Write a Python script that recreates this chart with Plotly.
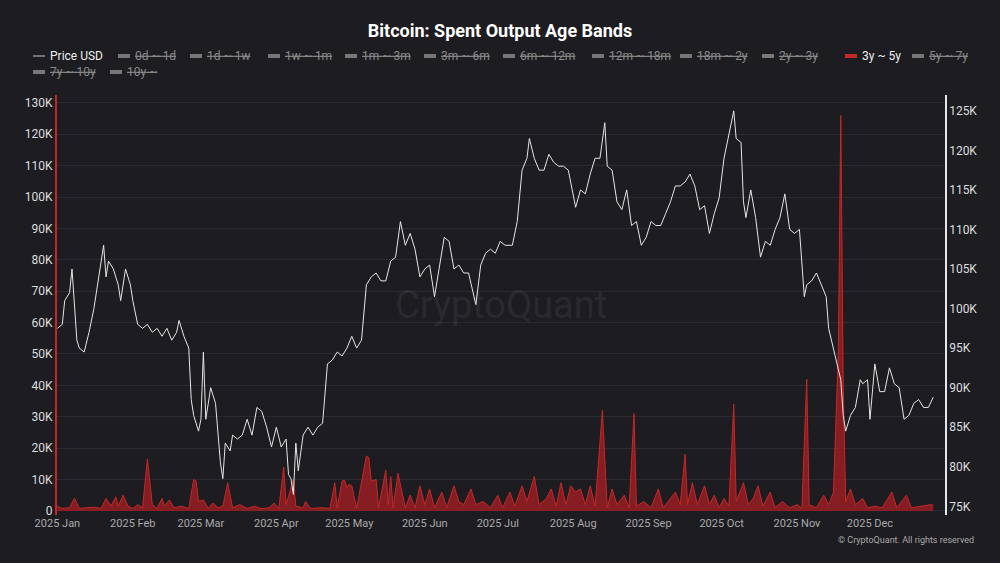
import plotly.graph_objects as go
import pandas as pd

price_dates = ["01-01","01-03","01-04","01-06","01-07","01-09","01-10","01-12","01-14","01-16","01-18","01-20","01-21","01-22","01-24","01-26","01-27","01-29","01-31",
"02-01","02-03","02-05","02-07","02-09","02-11","02-13","02-15","02-17","02-19","02-20","02-22","02-24","02-25","02-26","02-28",
"03-01","03-02","03-03","03-05","03-07","03-09","03-10","03-11","03-13","03-14","03-16","03-18","03-20","03-22","03-24","03-26","03-28","03-30",
"04-01","04-03","04-05","04-06","04-07","04-08","04-09","04-10","04-12","04-14","04-16","04-18","04-20","04-22","04-24","04-26","04-28","04-30",
"05-02","05-04","05-06","05-08","05-10","05-12","05-14","05-16","05-18","05-20","05-22","05-24","05-26","05-28","05-30",
"06-01","06-03","06-05","06-07","06-09","06-11","06-13","06-15","06-17","06-19","06-21","06-22","06-24","06-26","06-28","06-30",
"07-02","07-04","07-07","07-09","07-11","07-13","07-14","07-16","07-18","07-20","07-22","07-24","07-26","07-28","07-30",
"08-01","08-02","08-04","08-06","08-08","08-10","08-12","08-14","08-15","08-17","08-19","08-21","08-23","08-25","08-27","08-29","08-31",
"09-02","09-04","09-06","09-08","09-10","09-12","09-14","09-16","09-18","09-20","09-22","09-24","09-26","09-28","09-30",
"10-02","10-04","10-06","10-07","10-09","10-10","10-11","10-13","10-15","10-17","10-19","10-21","10-23","10-25","10-27","10-29","10-31",
"11-02","11-04","11-05","11-07","11-09","11-11","11-13","11-14","11-16","11-18","11-19","11-20","11-21","11-23","11-25","11-27","11-28","11-30",
"12-01","12-03","12-05","12-07","12-09","12-11","12-13","12-15","12-17","12-19","12-21","12-23","12-25","12-27"]
price_usd = [97.5,98,101,102,105,96,95,94.5,97,100,104,108,104,106,105,103,101,105,103,
101,98,97.5,98,97,97.5,96.5,97.5,96,97,98.5,96.5,95,88.5,86.5,84.5,
86,94.5,86,90,88,80.5,78.5,83,82,84,83.5,84,86,84,87.5,87,85,82.5,
85,82.5,83.5,79,78.5,76.5,83,79.5,84,85,84,85,85.5,93,93.5,94.5,94,95,
96.5,95,96,103,104,104.5,103.5,103.5,106,106.5,111,108,109.5,107.5,104,
105,105.5,101.5,105.5,109,108.5,105,105.5,104.5,104.5,102,100.5,105.5,107,107.5,107,
108.5,108,108,111,117.5,119,121.5,119,117.5,117.5,119.5,118.5,118,118,117.5,
114,112.8,115,114.5,117,119,119,123.5,118,117.5,113.5,112.5,115,110.5,111,108,109,
111,110.5,110.5,112,113.5,115.5,115.5,116,117,115.5,112.5,113,109.5,112,114,
119,122,125,121.5,121,113.5,111.5,115,111.5,106.5,108.5,108,110,111.5,114.5,110,109.5,
110,101.5,103,103.5,104.5,103,101.5,97.5,95,92.5,91,86.5,84.5,86.5,87.5,91,90.5,91,
86,93,89.5,89.5,92.5,90.5,90,86,86.5,88,88.5,87.5,87.5,88.8]

spent_dates = ["01-01","01-03","01-06","01-08","01-10","01-14","01-16","01-19","01-21","01-23","01-25","01-26","01-28","01-30",
"02-01","02-03","02-05","02-07","02-09","02-11","02-13","02-14","02-16","02-18","02-21","02-24","02-26","02-27","02-28",
"03-02","03-04","03-06","03-08","03-10","03-12","03-14","03-17","03-20","03-23","03-26","03-29","03-31",
"04-02","04-04","04-05","04-08","04-09","04-12","04-13","04-15","04-20","04-23","04-25","04-26","04-28","04-29","04-30",
"05-01","05-02","05-04","05-08","05-09","05-10","05-12","05-13","05-16","05-17","05-18","05-19","05-21","05-22","05-24","05-26","05-28","05-30",
"06-01","06-03","06-05","06-08","06-10","06-13","06-15","06-17","06-20","06-22","06-25","06-28",
"07-01","07-03","07-06","07-08","07-11","07-13","07-16","07-18","07-21","07-23","07-25","07-27","07-29","07-31",
"08-02","08-04","08-06","08-08","08-10","08-13","08-15","08-17","08-19","08-22","08-24","08-26","08-27","08-30",
"09-02","09-05","09-07","09-10","09-12","09-14","09-16","09-17","09-19","09-21","09-24","09-26","09-28","09-30",
"10-02","10-04","10-06","10-07","10-10","10-12","10-14","10-16","10-18","10-21","10-23","10-26","10-29",
"11-01","11-03","11-05","11-06","11-09","11-12","11-14","11-16","11-18","11-19","11-20","11-21","11-23","11-25","11-28","11-30",
"12-03","12-06","12-10","12-12","12-16","12-18","12-22","12-26","12-27"]
spent_3y_5y = [1.5,0.8,1,4,0.8,1,1.2,0.8,4,1.5,4.5,1.5,5,1.5,
0.8,2,1,16.5,2,0.8,4,1.5,3.5,1,1.5,0.8,10,9.5,3,
3.5,0.8,2.5,1,1.5,9,1,2,0.8,1.5,0.7,1,2.5,
0.8,14,2,10,1.5,1,3,0.8,1,0.8,9,1,9.5,9.8,7.5,
8.5,8,0.8,17.5,17,9.5,10,1,13,2,11,1,12,8,1,5,1,8,
2,7,1,6,1,8,3,2,7,2,3,1,
5,1,6,1.5,8,3,11,2,4,7,1.5,9,2,8,
6,7,2,8,1.5,32,1,7,2,5,1,31,1.5,3,
1,7,1,4,6,2,18,2,9,2,8,2,5,1,
4,1.5,34,3,9,2,4,8,1.5,6,1,3,1,
2,0.8,42,2,1,5,2,6,51,126,40,3,7,2,4,1,
1.5,1,6,1,5,1,1.5,2,1.8]

legend_names = ["Price USD","0d ~ 1d","1d ~ 1w","1w ~ 1m","1m ~ 3m","3m ~ 6m","6m ~ 12m","12m ~ 18m",
                "18m ~ 2y","2y ~ 3y","3y ~ 5y","5y ~ 7y","7y ~ 10y","10y ~"]

pdx = pd.to_datetime(["2025-" + d for d in price_dates])
sdx = pd.to_datetime(["2025-" + d for d in spent_dates])

fig = go.Figure()
fig.add_trace(go.Scatter(x=pdx, y=[v*1000 for v in price_usd], name="Price USD", yaxis="y2",
                         mode="lines", line=dict(color="#e6e6e6", width=1)))
fig.add_trace(go.Scatter(x=sdx, y=[v*1000 for v in spent_3y_5y], name="3y ~ 5y", mode="lines",
                         fill="tozeroy", line=dict(color="#c62828", width=1),
                         fillcolor="rgba(170,30,35,0.75)"))

# manual legend (pixel layout)
L, T, W, H = 57, 95, 888, 420
px_x = [33, 118, 190, 268, 345, 424, 503, 592, 680, 762, 845, 912, 33, 110]
px_y = [56]*12 + [72]*2
annotations = []
shapes = []
for name, x, y in zip(legend_names, px_x, px_y):
    xp0 = (x - L) / W
    xp1 = (x + 12 - L) / W
    yp = (T + H - y) / H
    active = name in ("Price USD", "3y ~ 5y")
    if name == "Price USD":
        col, lw = "#cccccc", 1
    elif name == "3y ~ 5y":
        col, lw = "#c62828", 4
    else:
        col, lw = "#777777", 4
    shapes.append(dict(type="line", xref="paper", yref="paper", x0=xp0, x1=xp1, y0=yp, y1=yp,
                       line=dict(color=col, width=lw)))
    label = name if active else '<span style="text-decoration:line-through">' + name + '</span>'
    annotations.append(dict(text=label, xref="paper", yref="paper", x=(x + 15 - L) / W, y=yp,
                            xanchor="left", yanchor="middle", showarrow=False,
                            font=dict(size=12, color="#eeeeee" if active else "#8a8a8a")))

annotations += [
    dict(text="CryptoQuant", xref="paper", yref="paper", x=0.5, y=0.5, showarrow=False,
         font=dict(size=38, color="rgba(255,255,255,0.08)")),
    dict(text="© CryptoQuant. All rights reserved", xref="paper", yref="paper", x=1.035, y=-0.075,
         xanchor="right", showarrow=False, font=dict(size=9, color="#aaaaaa")),
]

fig.update_layout(
    width=1000, height=563,
    paper_bgcolor="#1c1c21", plot_bgcolor="#1c1c21",
    font=dict(family="Roboto, Noto Sans, sans-serif", color="#cfcfcf", size=12),
    title=dict(text="<b>Bitcoin: Spent Output Age Bands</b>", x=0.5, xanchor="center", y=0.945,
               yanchor="middle", font=dict(size=18, color="white")),
    margin=dict(l=L, r=1000 - L - W, t=T, b=563 - T - H),
    showlegend=False,
    xaxis=dict(range=["2024-12-31 20:00", "2025-12-31 20:00"], tickformat="%Y %b", dtick="M1",
               tick0="2025-01-01", showgrid=False, tickfont=dict(size=11, color="#aaaaaa"),
               zeroline=False, ticks=""),
    yaxis=dict(range=[-1300, 132500], tickvals=list(range(0, 130001, 10000)),
               ticktext=["0"] + [f"{k}K" for k in range(10, 131, 10)],
               showgrid=True, gridcolor="#2a2a30", zeroline=False, showline=True,
               linecolor="#c62828", linewidth=2, tickfont=dict(size=12, color="#dddddd")),
    yaxis2=dict(overlaying="y", side="right", range=[73900, 127000],
                tickvals=list(range(75000, 125001, 5000)),
                ticktext=[f"{k}K" for k in range(75, 126, 5)],
                showgrid=False, zeroline=False, showline=True, linecolor="#e6e6e6", linewidth=1.5,
                tickfont=dict(size=12, color="#dddddd")),
    annotations=annotations,
    shapes=shapes,
)
fig.write_html("out.html", config={"displayModeBar": False},
               post_script="document.body.style.margin='0';document.body.style.background='#1c1c21';")
